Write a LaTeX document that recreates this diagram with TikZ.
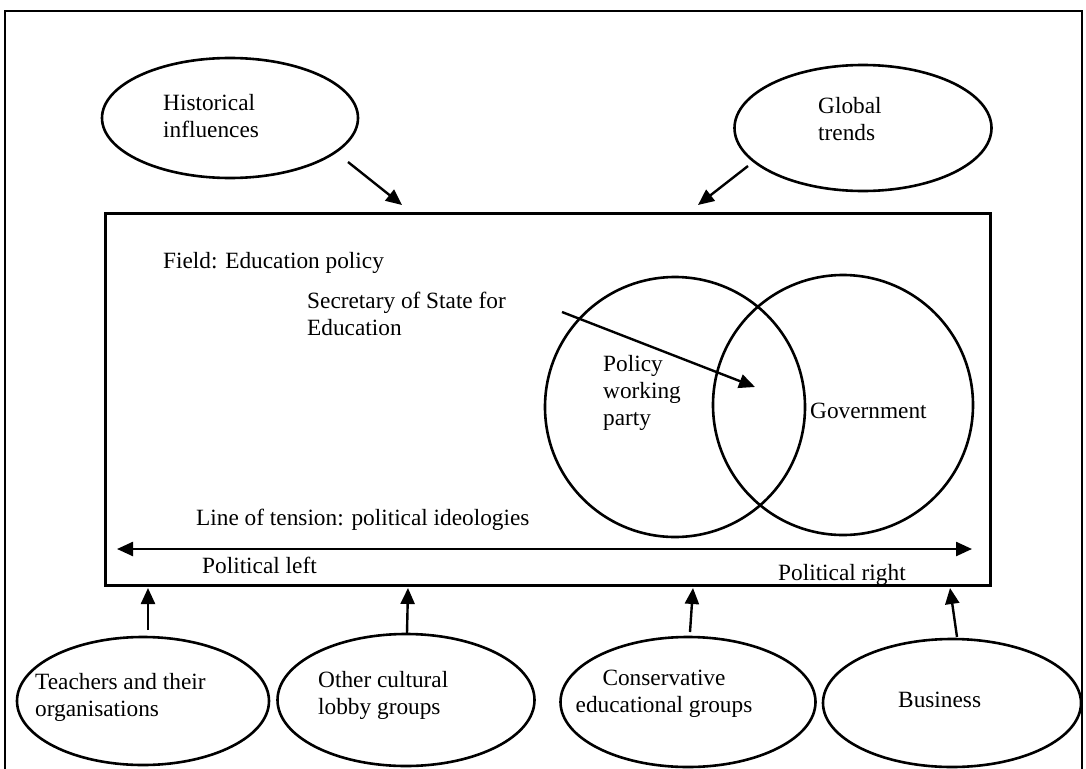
\documentclass[tikz,border=0pt]{standalone}
\usepackage{fontspec}
\setmainfont{Liberation Serif}
\usetikzlibrary{shapes.geometric,arrows.meta}
\begin{document}
\begin{tikzpicture}[x=1pt,y=-1pt,
  every node/.style={font=\fontsize{23.3}{27}\selectfont},
  oval/.style={draw,ellipse,line width=2.6pt,inner sep=0pt},
  txt/.style={anchor=base west,inner sep=0pt,align=left},
  arr/.style={line width=2.4pt,-{Triangle[length=16pt,width=14pt]}},
  frame/.style={line width=3pt}]
\useasboundingbox (0,0) rectangle (1086,768);
% outer frame
\draw[line width=2.4pt] (5,790) -- (5,11) -- (1082,11) -- (1082,790);
% main box
\node[draw,frame,minimum width=885pt,minimum height=372pt,inner sep=0pt] (box) at (547.5,399) {};
% top ellipses
\node[oval,minimum width=256pt,minimum height=120pt] (hist) at (230,118) {};
\node[txt] (histT) at (163,137) {Historical\\influences};
\node[oval,minimum width=257pt,minimum height=126pt] (glob) at (863,128) {};
\node[txt] (globT) at (818,140) {Global\\trends};
\coordinate (h1) at (348,162);
\coordinate (h2) at (402,205);
\coordinate (g1) at (748,166);
\coordinate (g2) at (698,205);
\draw[arr] (h1) -- (h2);
\draw[arr] (g1) -- (g2);
% inside box
\node[txt] (field) at (163,268) {Field: Education policy};
\node[txt] (sec) at (307,335) {Secretary of State for\\Education};
\node[draw,circle,line width=2.6pt,minimum size=260pt,inner sep=0pt] (pwp) at (675,407) {};
\node[draw,circle,line width=2.6pt,minimum size=260pt,inner sep=0pt] (gov) at (843,405) {};
\node[txt] (pwpT) at (603,425) {Policy\\working\\party};
\node[txt] (govT) at (810,418) {Government};
\coordinate (s1) at (562,312);
\coordinate (s2) at (755,387);
\draw[arr] (s1) -- (s2);
\node[txt] (tension) at (196,525) {Line of tension: political ideologies};
\coordinate (tl) at (117,549);
\coordinate (tr) at (972,549);
\draw[line width=2.4pt,{Triangle[length=16pt,width=14pt]}-{Triangle[length=16pt,width=14pt]}] (tl) -- (tr);
\node[txt] (pleft) at (202,573) {Political left};
\node[txt] (pright) at (778,580) {Political right};
% bottom ellipses
\node[oval,minimum width=252pt,minimum height=128pt] (teach) at (143,701) {};
\node[txt] (teachT) at (35,716) {Teachers and their\\organisations};
\node[oval,minimum width=257pt,minimum height=132pt] (other) at (406,700) {};
\node[txt] (otherT) at (318,714) {Other cultural\\lobby groups};
\node[oval,minimum width=255pt,minimum height=130pt] (cons) at (688,702) {};
\node[anchor=base,inner sep=0pt,align=center] (consT) at (664,712) {Conservative\\educational groups};
\node[oval,minimum width=258pt,minimum height=128pt] (bus) at (952,703) {};
\node[txt] (busT) at (898,707) {Business};
\coordinate (b1s) at (148,630); \coordinate (b1e) at (148,588);
\coordinate (b2s) at (407,633); \coordinate (b2e) at (408,588);
\coordinate (b3s) at (690,632); \coordinate (b3e) at (693,588);
\coordinate (b4s) at (957,637); \coordinate (b4e) at (950,588);
\draw[arr] (b1s) -- (b1e);
\draw[arr] (b2s) -- (b2e);
\draw[arr] (b3s) -- (b3e);
\draw[arr] (b4s) -- (b4e);
\end{tikzpicture}
\end{document}
